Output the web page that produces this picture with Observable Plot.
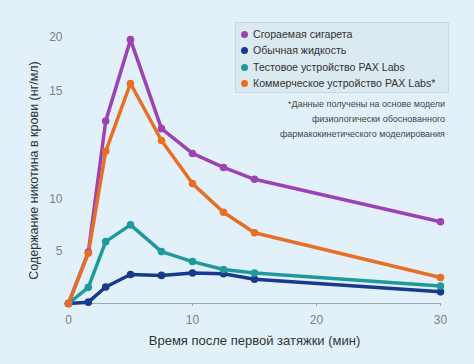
<!DOCTYPE html>
<html>
<head>
<meta charset="utf-8">
<script src="https://cdn.jsdelivr.net/npm/d3@7"></script>
<script src="https://cdn.jsdelivr.net/npm/@observablehq/plot@0.6"></script>
<style>
  html, body { margin: 0; padding: 0; background: #e2f1f9; }
  body { width: 474px; height: 364px; position: relative; overflow: hidden; font-family: "Liberation Sans", Arial, sans-serif; }
  #chart { position: absolute; left: 0; top: 0; }
  #legend { position: absolute; left: 235px; top: 22px; width: 214px; height: 71px; box-sizing: border-box;
            background: #dbe9f1; border: 1px solid #c8d8e2; padding: 3px 0 0 5px; }
  .item { height: 16.4px; line-height: 16.4px; font-size: 10.6px; color: #333; white-space: nowrap; }
  .dot { display: inline-block; width: 7px; height: 7px; border-radius: 50%; margin-right: 5px; vertical-align: 0px; }
  #note { position: absolute; right: 29px; top: 97px; text-align: right; font-size: 9px; line-height: 15px; color: #444; }
</style>
</head>
<body>
<div id="chart"></div>
<div id="legend"></div>
<div id="note"></div>
<script>
const times = [0, 1.6, 3, 5, 7.5, 10, 12.5, 15, 30];
const seriesNames = [
  "Сгораемая сигарета",
  "Обычная жидкость",
  "Тестовое устройство PAX Labs",
  "Коммерческое устройство PAX Labs*"
];
const seriesColors = ["#9c42b4", "#173a8c", "#1f9a9c", "#e96e25"];
const cigarette   = [0, 4.9, 13.6, 19.8, 13.25, 12.1, 11.45, 10.9, 7.8];
const ordinaryLiq = [0, 0.13, 1.57, 2.77, 2.68, 2.91, 2.84, 2.32, 1.11];
const paxTest     = [0, 1.54, 5.9, 7.5, 4.95, 4.0, 3.25, 2.9, 1.67];
const paxCommerce = [0, 4.8, 12.2, 15.7, 12.7, 10.7, 8.7, 6.75, 2.48];
const xTicks = [0, 10, 20, 30];
const yTicks = [5, 10, 15, 20];
const xLabel = "Время после первой затяжки (мин)";
const yLabel = "Содержание никотина в крови (нг/мл)";
const noteLines = [
  "*Данные получены на основе модели",
  "физиологически обоснованного",
  "фармакокинетического моделирования"
];

// The original y axis is not evenly spaced: the 10–15 step is twice as tall
// as the others. Reproduce it with a piecewise-linear mapping of values.
const yKnots = [0, 10, 15, 20];
const yKnotPos = [0, 104.7, 212.3, 265.7];
const yMap = d3.scaleLinear().domain(yKnots).range(yKnotPos);

const allSeries = [cigarette, ordinaryLiq, paxTest, paxCommerce];
const data = [];
allSeries.forEach((vals, si) => vals.forEach((v, i) => data.push({series: seriesNames[si], t: times[i], v, yv: yMap(v)})));

const chart = Plot.plot({
  width: 474,
  height: 364,
  marginLeft: 68,
  marginRight: 34,
  marginTop: 37,
  marginBottom: 61,
  style: {background: "transparent", fontFamily: "Liberation Sans, Arial, sans-serif", overflow: "visible"},
  x: {domain: [0, 30], label: null},
  y: {domain: [0, yMap(20)], label: null},
  color: {domain: seriesNames, range: seriesColors},
  marks: [
    Plot.ruleY([0], {stroke: "#9aa7b0", strokeWidth: 1}),
    Plot.axisX({ticks: xTicks, tickSize: 3, stroke: "#9aa7b0", tickPadding: 9, fontSize: 12, color: "#7a8088", label: null}),
    Plot.axisY({ticks: yTicks.map(yMap), tickFormat: (d, i) => String(yTicks[i]), tickSize: 0, tickPadding: 6, fontSize: 12, color: "#7a8088", label: null}),
    Plot.text([xLabel], {frameAnchor: "bottom", lineAnchor: "middle", textAnchor: "middle", dy: 37, fontSize: 13, fill: "#333"}),
    Plot.text([yLabel], {frameAnchor: "left", textAnchor: "middle", lineAnchor: "middle", rotate: -90, dx: -35, fontSize: 12.5, fill: "#333"}),
    Plot.line(data, {x: "t", y: "yv", z: "series", stroke: "series", strokeWidth: 3.5, strokeLinejoin: "round"}),
    Plot.dot(data, {x: "t", y: "yv", fill: "series", r: 3.8})
  ]
});
document.getElementById("chart").append(chart);

const legend = document.getElementById("legend");
seriesNames.forEach((n, i) => {
  const d = document.createElement("div");
  d.className = "item";
  d.innerHTML = `<span class="dot" style="background:${seriesColors[i]}"></span>${n}`;
  legend.append(d);
});
document.getElementById("note").innerHTML = noteLines.join("<br>");
</script>
</body>
</html>
